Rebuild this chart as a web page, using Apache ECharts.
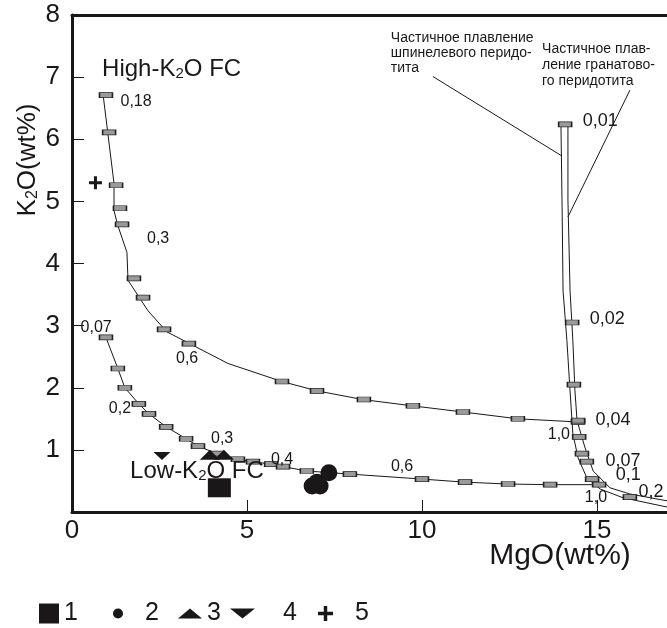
<!DOCTYPE html>
<html><head><meta charset="utf-8">
<script src="https://cdn.jsdelivr.net/npm/echarts@6/dist/echarts.min.js"></script>
<style>html,body{margin:0;padding:0;background:#fff}#c{width:667px;height:628px}</style>
</head><body><div id="c"></div>
<script>
// ---- data ----
const xTicks = [0, 5, 10, 15];
const yTicks = [1, 2, 3, 4, 5, 6, 7, 8];

const highKLine = [[0.89,6.71],[1.20,5.29],[1.20,4.85],[1.31,4.61],[1.57,4.18],[1.60,3.73],[2.17,3.24],[2.71,2.90],[4.46,2.39],[6.00,2.10],[7.00,1.95],[8.31,1.81],[9.71,1.71],[11.17,1.61],[12.74,1.50],[14.43,1.45]];
const highKMarks = [[0.97,6.71],[1.06,6.11],[1.26,5.26],[1.37,4.89],[1.43,4.63],[1.77,3.76],[2.03,3.45],[2.63,2.94],[3.34,2.71],[6.00,2.10],[7.00,1.95],[8.34,1.81],[9.74,1.71],[11.17,1.61],[12.74,1.50],[14.46,1.45]];
const lowK = [[0.97,2.81],[1.31,2.31],[1.51,2.00],[1.91,1.74],[2.20,1.58],[2.69,1.37],[3.26,1.18],[3.60,1.06],[4.14,0.94],[4.74,0.85],[5.17,0.81],[5.69,0.77],[6.03,0.73],[6.71,0.66],[7.94,0.61],[10.0,0.53],[11.23,0.48],[12.46,0.45],[13.66,0.44],[15.06,0.44]];
const spinelMelt = [[13.97,6.24],[14.0,5.02],[14.03,3.56],[14.14,2.76],[14.23,1.95],[14.31,1.26],[14.46,0.87],[14.71,0.55],[15.09,0.37],[15.74,0.23],[17.0,0.08]];
const garnetMelt = [[14.17,6.24],[14.17,5.02],[14.23,3.56],[14.31,2.76],[14.37,1.95],[14.43,1.47],[14.66,1.03],[14.89,0.66],[15.37,0.39],[15.94,0.29],[17.0,0.18]];
const meltMarks = [[14.09,6.24],[14.29,3.05],[14.34,2.05],[14.46,1.47],[14.49,1.21],[14.57,0.94],[14.71,0.81],[14.86,0.53],[15.94,0.24]];
const leaderSpinel = [[10.31,7.01],[14.0,5.73]];
const leaderGarnet = [[15.94,6.79],[14.17,4.75]];

const s1 = [[4.21,0.39]];
const s2 = [[7.34,0.63],[7.0,0.48],[6.86,0.42],[7.09,0.42]];
const s3 = [[3.94,0.92],[4.34,0.92]];
const s4 = [[2.57,0.90]];
const s5 = [[0.67,5.30]];

const fcLabels = [[1.83,6.61,'0,18'],[2.46,4.40,'0,3'],[3.29,2.47,'0,6'],[0.69,2.97,'0,07'],[1.37,1.66,'0,2'],[4.29,1.18,'0,3'],[6.0,0.85,'0,4'],[9.43,0.73,'0,6'],[13.91,1.24,'1,0'],[14.97,0.23,'1,0']];
const meltLabels = [[15.09,6.29,'0,01'],[15.29,3.11,'0,02'],[15.46,1.48,'0,04'],[15.74,0.82,'0,07'],[15.89,0.60,'0,1'],[16.54,0.32,'0,2']];
const titles = [[0.86,7.13,'{a|High-K}{s|2}{a|O FC}'],[1.66,0.65,'{a|Low-K}{s|2}{a|O FC}']];
const noteSpinel = [[9.11,7.75,'Частичное плавление\nшпинелевого перидо-\nтита']];
const noteGarnet = [[13.43,7.58,'Частичное плав-\nление гранатово-\nго перидотита']];

// ---- chart ----
const FONT = 'Liberation Sans, Arial, sans-serif';
const INK = '#1a1718';
const plusPath = 'path://M5,0H8V5H13V8H8V13H5V8H0V5H5Z';
const downTri = 'path://M0,0L25,0L12.5,10Z';

function textSeries(arr, fontSize, extra) {
  return Object.assign({
    type: 'scatter', silent: true, symbolSize: 0, z: 6,
    itemStyle: {color: 'transparent', opacity: 1},
    data: arr.map(a => ({value: [a[0], a[1]], label: {formatter: a[2]}})),
    label: {show: true, position: 'inside', fontSize: fontSize, color: INK, opacity: 1, fontFamily: FONT}
  }, extra || {});
}
function lineSeries(arr, w) {
  return {type: 'line', data: arr, symbol: 'none', silent: true, z: 2,
    lineStyle: {color: INK, width: w || 1, opacity: 1}};
}
function legendBox(name, left, w, h, icon, pad) {
  return {data: [name], left: left, top: 601, itemWidth: w, itemHeight: h, icon: icon,
    padding: 0, selectedMode: false,
    textStyle: {fontSize: 25, color: INK, fontFamily: FONT, padding: [0, 0, 0, pad]}};
}

const chart = echarts.init(document.getElementById('c'), null, {renderer: 'canvas'});
const option = {
  animation: false,
  backgroundColor: '#fff',
  textStyle: {fontFamily: FONT},
  grid: {left: 72, right: 0, top: 15, bottom: 116},
  xAxis: [{
    type: 'value', min: 0, max: 17, position: 'bottom',
    axisLine: {lineStyle: {color: INK, width: 3}},
    axisTick: {inside: true, length: 12, customValues: xTicks, lineStyle: {color: INK, width: 1}},
    axisLabel: {customValues: xTicks, fontSize: 26, color: INK, margin: 6, fontFamily: FONT},
    splitLine: {show: false}
  }, {
    type: 'value', min: 0, max: 17, position: 'top',
    axisLine: {onZero: false, lineStyle: {color: INK, width: 3}},
    axisTick: {show: false}, axisLabel: {show: false}, splitLine: {show: false}
  }],
  yAxis: {
    type: 'value', min: 0, max: 8,
    axisLine: {lineStyle: {color: INK, width: 3}},
    axisTick: {inside: true, length: 12, customValues: yTicks, lineStyle: {color: INK, width: 1}},
    axisLabel: {customValues: yTicks, fontSize: 26, color: INK, margin: 12, fontFamily: FONT},
    splitLine: {show: false}
  },
  legend: [
    legendBox('1', 39, 20, 20, 'rect', 0),
    legendBox('2', 113, 10, 10, 'circle', 17),
    legendBox('3', 178, 24, 10, 'triangle', 0),
    legendBox('4', 230, 25, 10, downTri, 23),
    legendBox('5', 318, 15, 15, plusPath, 17)
  ],
  graphic: [
    {type: 'text', x: 28, y: 160, rotation: Math.PI / 2,
      style: {text: '{a|K}{s|2}{a|O(wt%)}', align: 'center', verticalAlign: 'middle', fill: INK,
        rich: {a: {fontSize: 26, fontFamily: FONT, fill: INK, verticalAlign: 'bottom'},
               s: {fontSize: 16, fontFamily: FONT, fill: INK, verticalAlign: 'bottom'}}}},
    {type: 'text', x: 560, y: 556,
      style: {text: 'MgO(wt%)', align: 'center', verticalAlign: 'middle', fill: INK, fontSize: 30, fontFamily: FONT}}
  ],
  series: [
    lineSeries(highKLine),
    lineSeries(lowK),
    lineSeries(spinelMelt),
    lineSeries(garnetMelt),
    lineSeries(leaderSpinel),
    lineSeries(leaderGarnet),
    {type: 'scatter', silent: true, z: 3, data: highKMarks.concat(lowK, meltMarks),
      symbol: 'rect', symbolSize: [13, 5],
      itemStyle: {color: '#9a9a9a', borderColor: '#222', borderWidth: 1, opacity: 1}},
    {name: '1', type: 'scatter', z: 4, data: s1, symbol: 'rect', symbolSize: [23, 19], itemStyle: {color: INK, opacity: 1}},
    {name: '2', type: 'scatter', z: 4, data: s2, symbol: 'circle', symbolSize: 17, itemStyle: {color: INK, opacity: 1}},
    {name: '3', type: 'scatter', z: 4, data: s3, symbol: 'triangle', symbolSize: [20, 10], itemStyle: {color: INK, opacity: 1}},
    {name: '4', type: 'scatter', z: 4, data: s4, symbol: downTri, symbolSize: [17, 8], itemStyle: {color: INK, opacity: 1}},
    {name: '5', type: 'scatter', z: 4, data: s5, symbol: plusPath, symbolSize: 13, itemStyle: {color: INK, opacity: 1}},
    textSeries(fcLabels, 16),
    textSeries(meltLabels, 18),
    textSeries(titles, 24, {label: {show: true, position: 'right', distance: 0, color: INK,
      rich: {a: {fontSize: 24, fontFamily: FONT, color: INK, verticalAlign: 'bottom'},
             s: {fontSize: 15, fontFamily: FONT, color: INK, verticalAlign: 'bottom'}}}}),
    textSeries(noteSpinel, 14, {label: {show: true, position: [0, 0], align: 'left', verticalAlign: 'top',
      fontSize: 14, lineHeight: 15, color: INK, fontFamily: FONT}}),
    textSeries(noteGarnet, 14, {label: {show: true, position: [0, 0], align: 'left', verticalAlign: 'top',
      fontSize: 14, lineHeight: 16, color: INK, fontFamily: FONT}})
  ]
};
chart.setOption(option);
</script></body></html>
